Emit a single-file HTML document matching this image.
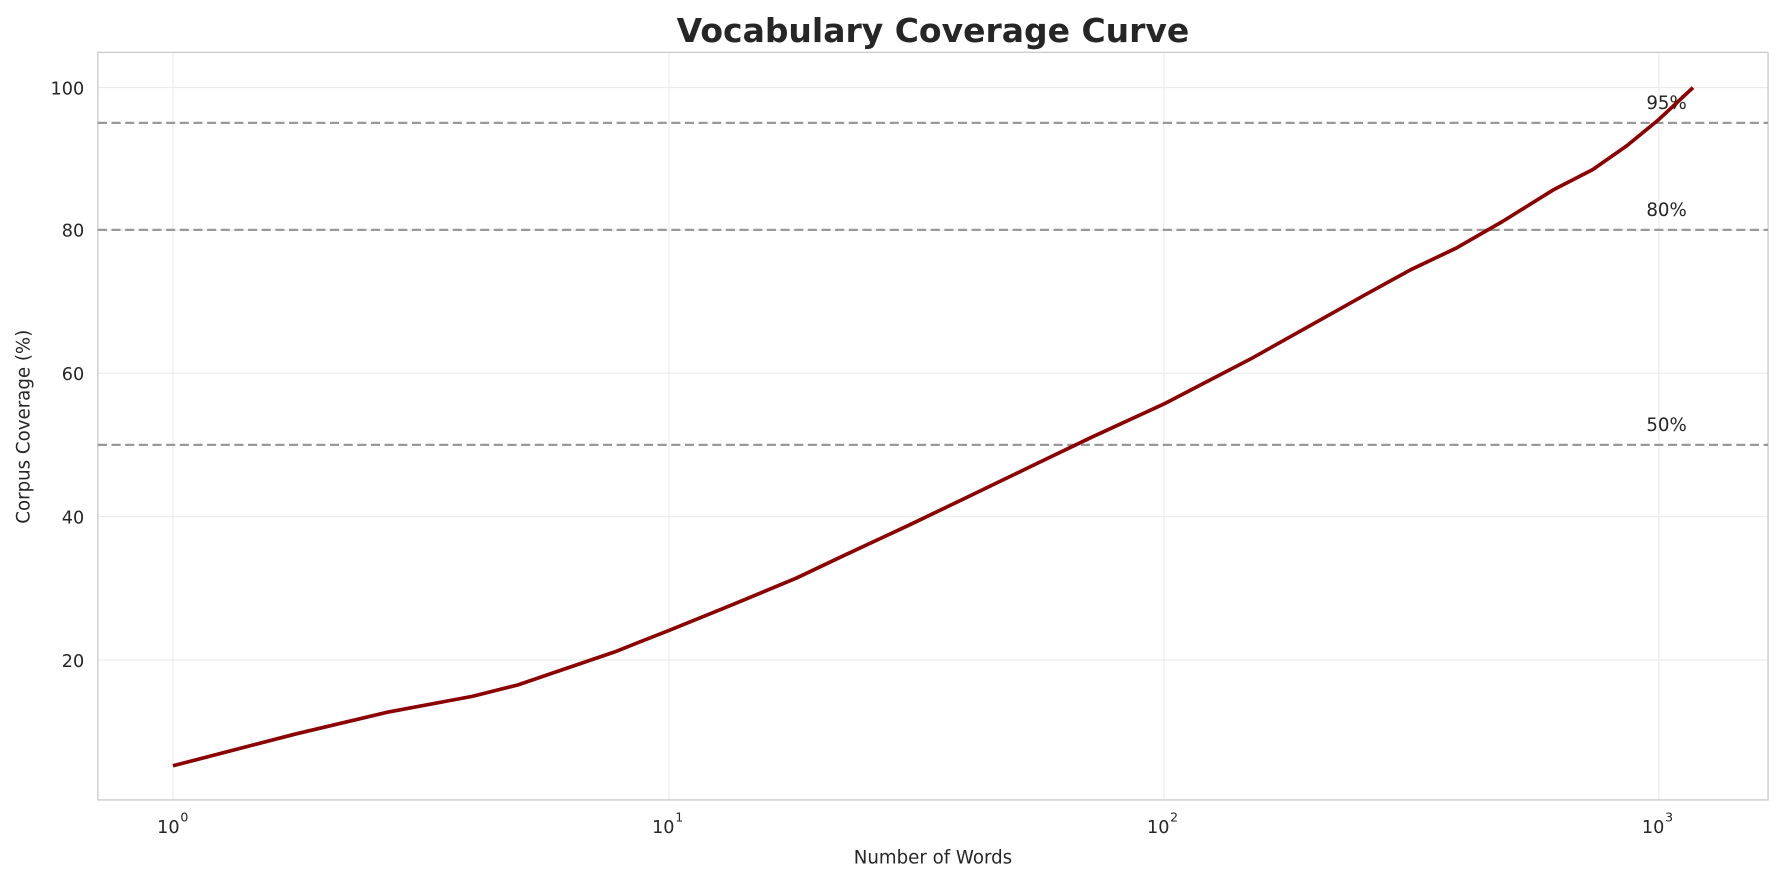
<!DOCTYPE html>
<html><head><meta charset="utf-8"><style>
html,body{margin:0;background:#fff;overflow:hidden;}
svg{display:block;font-family:"DejaVu Sans","Liberation Sans",sans-serif;}
</style></head><body>
<svg width="1784" height="883" viewBox="0 0 1568 776" preserveAspectRatio="none">
<rect width="1568" height="776" fill="#fff"/>
<text x="820" y="37" text-anchor="middle" font-size="29" font-weight="bold" fill="#262626">Vocabulary Coverage Curve</text>
<g stroke="#ebebeb" stroke-width="1">
<line x1="152" y1="46" x2="152" y2="703"/><line x1="588" y1="46" x2="588" y2="703"/>
<line x1="1023" y1="46" x2="1023" y2="703"/><line x1="1458" y1="46" x2="1458" y2="703"/>
<line x1="86" y1="77" x2="1554" y2="77"/><line x1="86" y1="202" x2="1554" y2="202"/>
<line x1="86" y1="328" x2="1554" y2="328"/><line x1="86" y1="454" x2="1554" y2="454"/>
<line x1="86" y1="580" x2="1554" y2="580"/>
</g>
<rect x="86" y="46" width="1468" height="657" fill="none" stroke="#cccccc" stroke-width="1.2"/>
<g stroke="#999" stroke-width="2" stroke-dasharray="8,4">
<line x1="86" y1="108" x2="1554" y2="108"/><line x1="86" y1="202" x2="1554" y2="202"/><line x1="86" y1="391" x2="1554" y2="391"/>
</g>
<g font-size="16" fill="#262626">
<text x="1447" y="96">95%</text><text x="1447" y="190">80%</text><text x="1447" y="379">50%</text>
</g>
<polyline fill="none" stroke="#8b0000" stroke-width="3.2" stroke-linejoin="round" points="152,673 260,645 340,626 415,612 455,602 490,590 540,573 588,554 640,533 700,508 740,489 800,461 850,437 910,408 960,384 1023,355 1100,315 1150,287 1200,259 1240,237 1280,218 1320,195 1365,167 1400,149 1430,128 1458,105 1488,77"/>
<g font-size="15.5" fill="#262626" text-anchor="end">
<text x="74" y="83">100</text><text x="74" y="208">80</text><text x="74" y="334">60</text><text x="74" y="460">40</text><text x="74" y="586">20</text>
</g>
<g font-size="15.5" fill="#262626" text-anchor="middle">
<text x="148" y="732">10</text><text x="162" y="722" font-size="11">0</text>
<text x="583" y="732">10</text><text x="597" y="722" font-size="11">1</text>
<text x="1018" y="732">10</text><text x="1032" y="722" font-size="11">2</text>
<text x="1453" y="732">10</text><text x="1467" y="722" font-size="11">3</text>
</g>
<text x="820" y="759" text-anchor="middle" font-size="16" fill="#262626">Number of Words</text>
<text transform="translate(26,375) rotate(-90)" text-anchor="middle" font-size="16" fill="#262626">Corpus Coverage (%)</text>
</svg>
</body></html>
